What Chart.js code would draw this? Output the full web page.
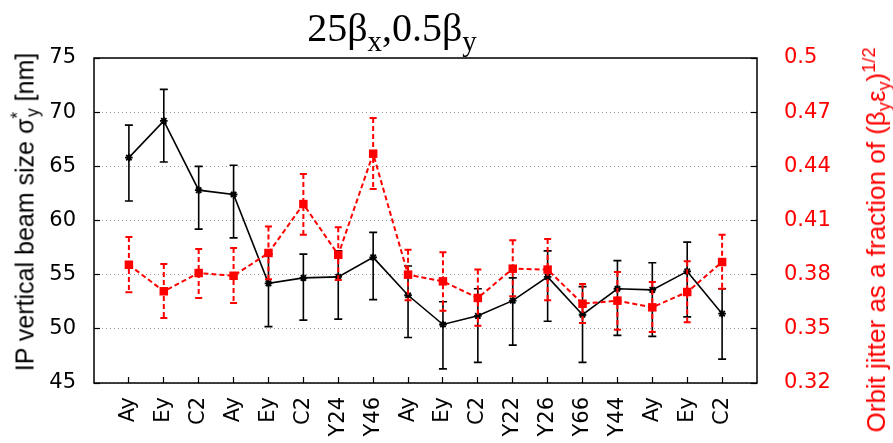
<!DOCTYPE html>
<html lang="en">
<head>
    <meta charset="UTF-8">
    <title>25βx,0.5βy jitter</title>
    <style>
        body {
            margin: 0;
            padding: 0;
            background-color: #fff;
        }
        .wrap {
            position: relative;
            width: 893px;
            height: 443px;
            overflow: hidden;
        }
        canvas {
            position: absolute;
            left: 0;
            top: 0;
        }
        .title {
            position: absolute;
            left: 392px;
            top: 8px;
            transform: translateX(-50%);
            font-family: "Liberation Serif", serif;
            font-size: 40px;
            line-height: 1;
            white-space: nowrap;
            color: #000;
        }
        .title sub {
            font-size: 0.72em;
            vertical-align: -0.34em;
            line-height: 0;
        }
        .ytitle {
            position: absolute;
            white-space: nowrap;
            font-family: "Liberation Sans", Arial, sans-serif;
            font-size: 25px;
            line-height: 1;
            transform: translate(-50%, -50%) rotate(-90deg);
        }
        .ytitle sub, .ytitle sup {
            font-size: 0.7em;
            line-height: 0;
        }
        .ytitle sub { vertical-align: -0.3em; }
        .ytitle sup { vertical-align: 0.55em; }
        #leftTitle {
            left: 25px;
            top: 212px;
            color: #000;
        }
        #rightTitle {
            left: 876px;
            top: 240px;
            font-size: 26px;
            color: #ff0000;
        }
    </style>
</head>
<body>
    <div class="wrap">
        <canvas id="jitterChart" width="893" height="443"></canvas>
        <div class="title">25β<sub>x</sub>,0.5β<sub>y</sub></div>
        <div class="ytitle" id="leftTitle">IP vertical beam size σ<sup>*</sup><sub style="margin-left:-0.3em">y</sub> [nm]</div>
        <div class="ytitle" id="rightTitle">Orbit jitter as a fraction of (β<sub>y</sub>ε<sub>y</sub>)<sup>1/2</sup></div>
    </div>
    <script src="https://cdn.jsdelivr.net/npm/chart.js"></script>
    <script>
        // Measurement labels along the x axis
        const labels = ['Ay', 'Ey', 'C2', 'Ay', 'Ey', 'C2', 'Y24', 'Y46', 'Ay', 'Ey', 'C2', 'Y22', 'Y26', 'Y66', 'Y44', 'Ay', 'Ey', 'C2'];

        // IP vertical beam size [nm] (left axis), with error bar ends
        const sigmaY    = [65.8, 69.2, 62.8, 62.4, 54.2, 54.7, 54.8, 56.6, 53.1, 50.4, 51.2, 52.6, 54.8, 51.3, 53.7, 53.6, 55.3, 51.4];
        const sigmaLow  = [61.8, 65.4, 59.2, 58.4, 50.2, 50.8, 50.9, 52.7, 49.2, 46.3, 46.9, 48.5, 50.7, 46.9, 49.4, 49.3, 51.1, 47.2];
        const sigmaHigh = [68.8, 72.1, 65.0, 65.1, 56.9, 56.9, 57.2, 58.9, 55.8, 52.5, 53.7, 54.7, 57.2, 53.9, 56.3, 56.1, 58.0, 53.7];

        // Orbit jitter as a fraction of sqrt(beta_y eps_y) (right axis)
        const jitter     = [0.3855, 0.3708, 0.3809, 0.3794, 0.3920, 0.4191, 0.3910, 0.4470, 0.3800, 0.3763, 0.3671, 0.3833, 0.3828, 0.3639, 0.3656, 0.3619, 0.3704, 0.3870];
        const jitterLow  = [0.3702, 0.3560, 0.3671, 0.3643, 0.3775, 0.4021, 0.3770, 0.4275, 0.3658, 0.3600, 0.3517, 0.3680, 0.3658, 0.3532, 0.3495, 0.3483, 0.3536, 0.3722];
        const jitterHigh = [0.4009, 0.3859, 0.3942, 0.3948, 0.4067, 0.4358, 0.4062, 0.4668, 0.3938, 0.3924, 0.3828, 0.3990, 0.3997, 0.3748, 0.3815, 0.3759, 0.3874, 0.4021];

        const tickFont = { family: '"DejaVu Sans", sans-serif', size: 21 };

        // vertical error bars with caps, drawn under each dataset
        const errorBars = {
            id: 'errorBars',
            beforeDatasetDraw(chart, args) {
                const ds = chart.data.datasets[args.index];
                if (!ds.errLow) return;
                const yScale = chart.scales[ds.yAxisID];
                const ctx = chart.ctx;
                const cap = ds.capHalf;
                ctx.save();
                ctx.strokeStyle = ds.borderColor;
                ctx.lineWidth = ds.errWidth;
                args.meta.data.forEach((pt, i) => {
                    const top = yScale.getPixelForValue(ds.errHigh[i]);
                    const bot = yScale.getPixelForValue(ds.errLow[i]);
                    ctx.setLineDash(ds.borderDash || []);
                    ctx.beginPath();
                    ctx.moveTo(pt.x, top);
                    ctx.lineTo(pt.x, bot);
                    ctx.stroke();
                    ctx.setLineDash([]);
                    ctx.beginPath();
                    ctx.moveTo(pt.x - cap, top);
                    ctx.lineTo(pt.x + cap, top);
                    ctx.moveTo(pt.x - cap, bot);
                    ctx.lineTo(pt.x + cap, bot);
                    ctx.stroke();
                });
                ctx.restore();
            }
        };

        // plot frame on all four sides
        const frame = {
            id: 'frame',
            afterDraw(chart) {
                const a = chart.chartArea;
                const ctx = chart.ctx;
                ctx.save();
                ctx.strokeStyle = '#000';
                ctx.lineWidth = 1.5;
                ctx.strokeRect(a.left, a.top, a.right - a.left, a.bottom - a.top);
                ctx.restore();
            }
        };

        const chart = new Chart(document.getElementById('jitterChart'), {
            type: 'line',
            data: {
                datasets: [{
                    label: 'Orbit jitter',
                    data: jitter.map((v, i) => ({ x: i, y: v })),
                    errLow: jitterLow,
                    errHigh: jitterHigh,
                    yAxisID: 'y2',
                    borderColor: '#ff0000',
                    backgroundColor: '#ff0000',
                    borderWidth: 2,
                    borderDash: [5, 3],
                    errWidth: 2,
                    capHalf: 3.5,
                    pointStyle: 'rect',
                    pointRadius: 6,
                    pointBorderWidth: 0,
                    tension: 0,
                    order: 1
                }, {
                    label: 'Beam size',
                    data: sigmaY.map((v, i) => ({ x: i, y: v })),
                    errLow: sigmaLow,
                    errHigh: sigmaHigh,
                    yAxisID: 'y',
                    borderColor: '#000',
                    backgroundColor: '#000',
                    borderWidth: 1.6,
                    errWidth: 1.6,
                    capHalf: 4,
                    pointStyle: 'star',
                    pointRadius: 3.8,
                    pointBorderWidth: 1.8,
                    tension: 0,
                    order: 2
                }]
            },
            options: {
                responsive: false,
                animation: false,
                devicePixelRatio: 1,
                layout: { padding: { top: 58, left: 0, right: 0, bottom: 0 } },
                plugins: {
                    legend: { display: false },
                    tooltip: { enabled: false }
                },
                scales: {
                    x: {
                        type: 'linear',
                        min: -1,
                        max: 18,
                        afterBuildTicks: s => { s.ticks = s.ticks.filter(t => t.value >= 0 && t.value <= 17); },
                        afterFit: s => { s.height = 60; },
                        border: { display: false },
                        grid: { drawOnChartArea: false, tickLength: -6, tickColor: '#000', tickWidth: 1.2 },
                        ticks: {
                            stepSize: 1,
                            autoSkip: false,
                            minRotation: 90,
                            maxRotation: 90,
                            padding: 20,
                            color: '#000',
                            font: tickFont,
                            callback: v => labels[v] ?? ''
                        }
                    },
                    y: {
                        position: 'left',
                        min: 45,
                        max: 75,
                        afterFit: s => { s.width = 94; },
                        border: { display: false, dash: [1, 3] },
                        grid: { color: '#9a9a9a', lineWidth: 1, tickLength: -6, tickColor: '#000', tickWidth: 1.2 },
                        ticks: { stepSize: 5, padding: 24, color: '#000', font: tickFont }
                    },
                    y2: {
                        position: 'right',
                        min: 0.32,
                        max: 0.5,
                        afterFit: s => { s.width = 136; },
                        border: { display: false },
                        grid: { drawOnChartArea: false, tickLength: -6, tickColor: '#000', tickWidth: 1.2 },
                        ticks: {
                            stepSize: 0.03,
                            padding: 33,
                            color: '#ff0000',
                            font: tickFont,
                            callback: v => String(+v.toFixed(2))
                        }
                    }
                }
            },
            plugins: [errorBars, frame]
        });
    </script>
</body>
</html>
